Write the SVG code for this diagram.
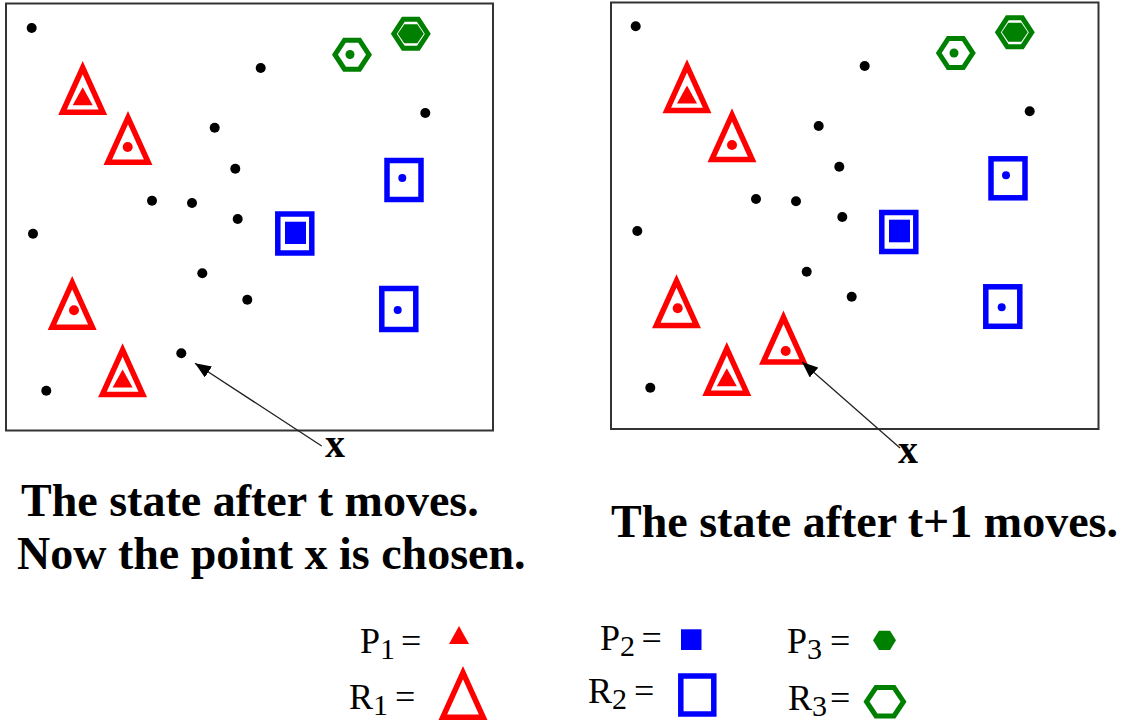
<svg xmlns="http://www.w3.org/2000/svg" xmlns:xlink="http://www.w3.org/1999/xlink" width="1121" height="723" viewBox="0 0 1121 723">
<style>
.frame{fill:none;stroke:#333;stroke-width:2}
.dot{fill:#000}
.rtri{fill:none;stroke:#f00;stroke-width:5.5;stroke-linejoin:miter}
.rfill{fill:#f00}
.bsq{fill:none;stroke:#00f;stroke-width:5.5}
.bfill{fill:#00f}
.ghex{fill:none;stroke:#008000;stroke-width:5}
.gfill{fill:#008000}
.title{font-family:"Liberation Serif","Times New Roman",serif;font-weight:bold;font-size:46px;fill:#000}
.xl{font-family:"Liberation Serif","Times New Roman",serif;font-weight:bold;font-size:40px;fill:#000}
.leg{font-family:"Liberation Serif","Times New Roman",serif;font-size:36px;fill:#000}
.conn{stroke:#222;stroke-width:1.3;fill:none}
</style>
<defs>
<polygon id="triR" points="0,-31.6 20.2,13.1 -20.2,13.1"/>
<polygon id="triP" points="0,-12 10,6 -10,6"/>
<polygon id="hexR" points="-17,0 -7.5,-14.5 7.5,-14.5 17,0 7.5,14.5 -7.5,14.5"/>
<polygon id="hexP" points="-13,0 -6.5,-9.5 6.5,-9.5 13,0 6.5,9.5 -6.5,9.5"/>
<marker id="ah" viewBox="0 0 16 13" refX="16" refY="6.5" markerWidth="16" markerHeight="13" markerUnits="userSpaceOnUse" orient="auto">
<path d="M0,0 L16,6.5 L0,13 z" fill="#000"/>
</marker>
</defs>

<g id="left-panel">
<rect class="frame" x="6" y="3.5" width="487" height="427"/>
<g id="left-points" class="dot">
<circle cx="31.7" cy="28" r="5"/>
<circle cx="260.7" cy="68" r="5"/>
<circle cx="425.3" cy="113" r="5"/>
<circle cx="214.7" cy="127.7" r="5"/>
<circle cx="235.3" cy="168.7" r="5"/>
<circle cx="152" cy="200.7" r="5"/>
<circle cx="192" cy="203" r="5"/>
<circle cx="237.7" cy="219" r="5"/>
<circle cx="33" cy="233.7" r="5"/>
<circle cx="202.3" cy="273.3" r="5"/>
<circle cx="247.3" cy="299.7" r="5"/>
<circle cx="181.3" cy="353.3" r="5"/>
<circle cx="46.3" cy="390.7" r="5"/>
</g>
<g id="left-t1"><use href="#triR" class="rtri" transform="translate(82.7,99.2)"/><use href="#triP" class="rfill" transform="translate(82.7,99.2)"/></g>
<g id="left-t2"><use href="#triR" class="rtri" transform="translate(128,149.2)"/><circle class="rfill" cx="127.7" cy="147" r="5"/></g>
<g id="left-t3"><use href="#triR" class="rtri" transform="translate(72.2,314.2)"/><circle class="rfill" cx="74" cy="310.3" r="5"/></g>
<g id="left-t4"><use href="#triR" class="rtri" transform="translate(122.6,381.5)"/><use href="#triP" class="rfill" transform="translate(122.6,381.5)"/></g>
<g id="left-s1"><rect class="bsq" x="387" y="160.5" width="34" height="39"/><circle class="bfill" cx="402.3" cy="178" r="4"/></g>
<g id="left-s2"><rect class="bsq" x="277.8" y="214" width="34" height="39"/><rect class="bfill" x="285" y="221.7" width="21" height="22.3"/></g>
<g id="left-s3"><rect class="bsq" x="381.8" y="288.5" width="34" height="41"/><circle class="bfill" cx="397.7" cy="310" r="4"/></g>
<g id="left-h1"><use href="#hexR" class="ghex" transform="translate(352,54.7)"/><circle class="gfill" cx="350" cy="54.5" r="4.5"/></g>
<g id="left-h2"><use href="#hexR" class="ghex" transform="translate(410.8,33.8)"/><use href="#hexP" class="gfill" transform="translate(410.8,33.8)"/></g>
</g>

<g id="right-panel">
<rect class="frame" x="611" y="2.5" width="487.5" height="426.5"/>
<g id="right-points" class="dot">
<circle cx="635.7" cy="26.3" r="5"/>
<circle cx="864.7" cy="66" r="5"/>
<circle cx="1029.7" cy="111.3" r="5"/>
<circle cx="818.7" cy="126" r="5"/>
<circle cx="839.3" cy="166.7" r="5"/>
<circle cx="756" cy="199" r="5"/>
<circle cx="796" cy="201.3" r="5"/>
<circle cx="842.3" cy="217" r="5"/>
<circle cx="637.3" cy="231" r="5"/>
<circle cx="806.7" cy="271.7" r="5"/>
<circle cx="851.7" cy="296.7" r="5"/>
<circle cx="650.3" cy="387.7" r="5"/>
</g>
<g id="right-t1"><use href="#triR" class="rtri" transform="translate(687,97.5)"/><use href="#triP" class="rfill" transform="translate(687,97.5)"/></g>
<g id="right-t2"><use href="#triR" class="rtri" transform="translate(732,146.5)"/><circle class="rfill" cx="732" cy="145" r="5"/></g>
<g id="right-t3"><use href="#triR" class="rtri" transform="translate(676.5,312.5)"/><circle class="rfill" cx="677.7" cy="308.3" r="5"/></g>
<g id="right-t4"><use href="#triR" class="rtri" transform="translate(726.8,380.2)"/><use href="#triP" class="rfill" transform="translate(726.8,380.2)"/></g>
<g id="right-t5"><use href="#triR" class="rtri" transform="translate(783.5,348.9)"/><circle class="rfill" cx="785.7" cy="351" r="5"/></g>
<g id="right-s1"><rect class="bsq" x="991" y="158.8" width="34" height="39"/><circle class="bfill" cx="1006" cy="175.3" r="4"/></g>
<g id="right-s2"><rect class="bsq" x="881.8" y="212.5" width="34" height="39"/><rect class="bfill" x="889" y="219.7" width="21" height="22.6"/></g>
<g id="right-s3"><rect class="bsq" x="985.8" y="286.8" width="34" height="39.5"/><circle class="bfill" cx="1001.7" cy="307.3" r="4"/></g>
<g id="right-h1"><use href="#hexR" class="ghex" transform="translate(955.8,53)"/><circle class="gfill" cx="954" cy="53" r="4.5"/></g>
<g id="right-h2"><use href="#hexR" class="ghex" transform="translate(1014.8,32.3)"/><use href="#hexP" class="gfill" transform="translate(1014.8,32.3)"/></g>
</g>

<g id="connectors">
<line class="conn" x1="321.7" y1="446" x2="195" y2="363.3" marker-end="url(#ah)"/>
<line class="conn" x1="900" y1="448" x2="802" y2="362" marker-end="url(#ah)"/>
</g>

<g id="labels">
<text class="xl" x="335" y="457" text-anchor="middle">x</text>
<text class="xl" x="908" y="463" text-anchor="middle">x</text>
<text class="title" x="21" y="516">The state after t moves.</text>
<text class="title" x="17" y="569">Now the point x is chosen.</text>
<text class="title" x="611" y="537">The state after t+1 moves.</text>
</g>

<g id="legend">
<g id="leg-p1"><text class="leg" x="360" y="653">P<tspan font-size="30" dy="6">1</tspan><tspan x="401" dy="-6">=</tspan></text><polygon class="rfill" points="459,626 469,644 449,644"/></g>
<g id="leg-r1"><text class="leg" x="349" y="709">R<tspan font-size="30" dy="6">1</tspan><tspan x="395" dy="-6">=</tspan></text><use href="#triR" class="rtri" transform="translate(463,704.2)"/></g>
<g id="leg-p2"><text class="leg" x="600" y="650">P<tspan font-size="30" dy="6">2</tspan><tspan x="641.5" dy="-6">=</tspan></text><rect class="bfill" x="681" y="629.3" width="20.5" height="20.7"/></g>
<g id="leg-r2"><text class="leg" x="588" y="703">R<tspan font-size="30" dy="6">2</tspan><tspan x="634" dy="-6">=</tspan></text><rect class="bsq" x="680.8" y="676" width="33" height="38"/></g>
<g id="leg-p3"><text class="leg" x="787" y="653">P<tspan font-size="30" dy="6">3</tspan><tspan x="830" dy="-6">=</tspan></text><polygon class="gfill" points="873,640.3 879,630.7 890,630.7 896,640.3 890,650 879,650"/></g>
<g id="leg-r3"><text class="leg" x="788" y="710">R<tspan font-size="30" dy="6">3</tspan><tspan x="830" dy="-6">=</tspan></text><polygon class="ghex" points="866.5,701.7 876,687.5 894,687.5 903.5,701.7 894,716 876,716"/></g>
</g>
</svg>
